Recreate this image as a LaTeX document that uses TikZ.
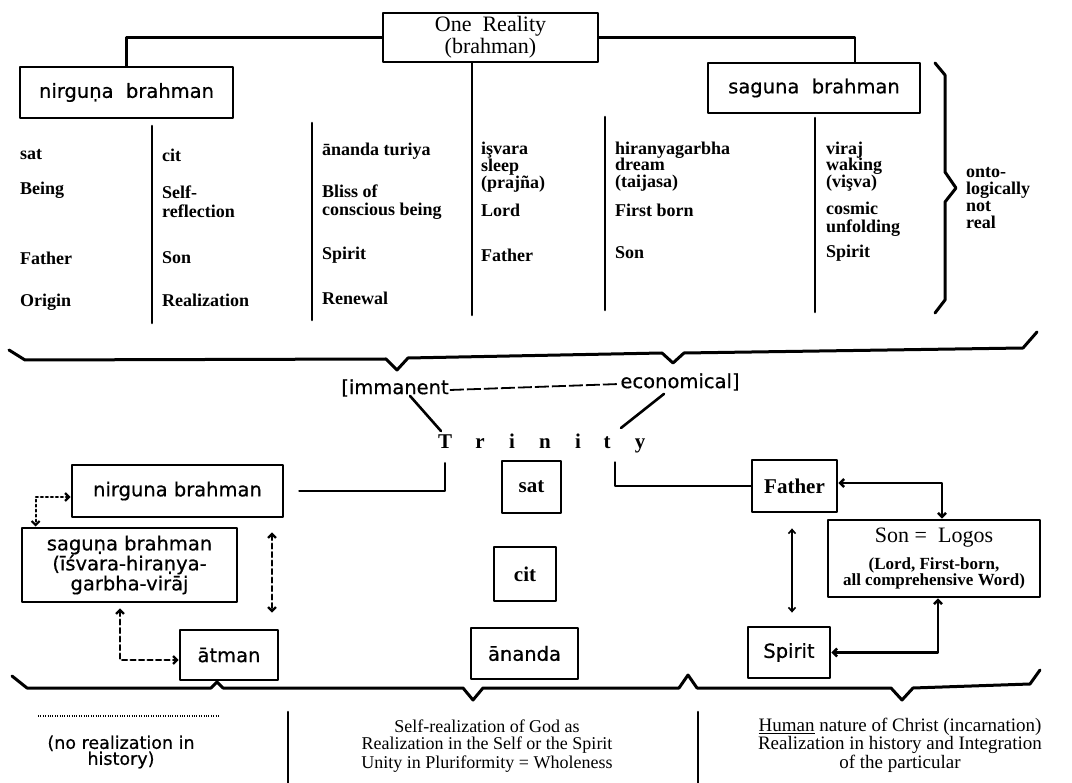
\documentclass[tikz,border=0pt]{standalone}
\usepackage{fontspec}
\setmainfont{Liberation Serif}
\newfontfamily\djv[FakeBold=0.6]{DejaVu Sans}
\usetikzlibrary{arrows.meta}
\newcommand\lblfont{\djv\fontsize{19.5}{20}\selectfont}
\newcommand\bsfont{\fontsize{21}{22}\selectfont\bfseries}
\begin{document}
\begin{tikzpicture}[x=1pt,y=-1pt,line join=round,line cap=round,
  box/.style={draw,line width=2.8pt,inner sep=0pt,align=center},
  conn/.style={line width=2.6pt},
  colline/.style={line width=2.6pt},
  brace/.style={line width=3pt},
  tbl/.style={anchor=west,align=left,inner sep=0pt,font=\fontsize{18}{#1}\selectfont\bfseries},
  tbl/.default=16,
  lbl/.style={font=\lblfont},
  trin/.style={anchor=base,inner sep=1pt,font=\bsfont},
  ardot/.style={line width=2.2pt,dash pattern=on 2pt off 3pt,{Straight Barb[length=4pt,width=8pt]}-{Straight Barb[length=4pt,width=8pt]}},
  ardash/.style={line width=2.2pt,dash pattern=on 5pt off 3.5pt,{Straight Barb[length=4pt,width=8pt]}-{Straight Barb[length=4pt,width=8pt]}},
  arsolid/.style={line width=2.4pt,{Straight Barb[length=4pt,width=8pt]}-{Straight Barb[length=4pt,width=8pt]}},
  arthin/.style={line width=1.6pt,{Straight Barb[length=4pt,width=7pt]}-{Straight Barb[length=4pt,width=7pt]}}
]
\useasboundingbox (0,0) rectangle (1072,783);

% ---------- top boxes ----------
\node[box,minimum width=215pt,minimum height=49pt,font=\fontsize{22}{22}\selectfont] (one) at (490.5,37.5) {One\ \ Reality\\(brahman)};
\node[box,minimum width=213pt,minimum height=51pt,lbl] (nirgT) at (126.5,92.5) {nirguṇa\ \ brahman};
\node[box,minimum width=212pt,minimum height=50pt,lbl] (sagT) at (814,88) {saguna\ \ brahman};
\draw[conn] (one.west) -| (nirgT.north);
\draw[conn] (one.east) -| ([xshift=41pt]sagT.north);
\coordinate (c3b) at (472,315);
\draw[conn] (one.south -| c3b) -- (c3b);

% ---------- column lines ----------
\coordinate (c1a) at (152,126); \coordinate (c1b) at (152,323);
\coordinate (c2a) at (312,123); \coordinate (c2b) at (312,320);
\coordinate (c4a) at (605,117); \coordinate (c4b) at (605,310);
\coordinate (c5a) at (815,118); \coordinate (c5b) at (815,312);
\draw[colline] (c1a) -- (c1b);
\draw[colline] (c2a) -- (c2b);
\draw[colline] (c4a) -- (c4b);
\draw[colline] (c5a) -- (c5b);

% ---------- table text ----------
\node[tbl] (t00) at (20,155) {sat};
\node[tbl] (t01) at (20,190) {Being};
\node[tbl] (t02) at (20,258) {Father};
\node[tbl] (t03) at (20,302) {Origin};

\node[tbl] (t10) at (162,155) {cit};
\node[tbl=19] (t11) at (162,202) {Self-\\reflection};
\node[tbl] (t12) at (162,258) {Son};
\node[tbl] (t13) at (162,300) {Realization};

\node[tbl] (t20) at (322,151) {ānanda turiya};
\node[tbl=18] (t21) at (322,202) {Bliss of\\conscious being};
\node[tbl] (t22) at (322,255) {Spirit};
\node[tbl] (t23) at (322,298) {Renewal};

\node[tbl=15] (t30) at (481,167) {işvara\\sleep\\(prajña)};
\node[tbl] (t31) at (481,210) {Lord};
\node[tbl] (t32) at (481,255) {Father};

\node[tbl=16.5] (t40) at (615,166.5) {hiranyagarbha\\dream\\(taijasa)};
\node[tbl] (t41) at (615,210) {First born};
\node[tbl] (t42) at (615,253) {Son};

\node[tbl=16.5] (t50) at (826,166.5) {viraj\\waking\\(vişva)};
\node[tbl=18] (t51) at (826,219) {cosmic\\unfolding};
\node[tbl] (t52) at (826,253) {Spirit};

\draw[brace] (935,63) -- (945,75) -- (945,172) -- (956,188) -- (945,202) -- (945,300) -- (935,313);
\node[tbl=16.7] (onto) at (966,198) {onto-\\logically\\not\\real};

% ---------- upper long brace ----------
\draw[brace] (9,350) -- (25,360) -- (386,359) -- (397,370) -- (408,358) -- (662,353) -- (673,363) -- (684,353) -- (1023,348) -- (1037,332);

\node[lbl,inner sep=1pt] (imm) at (395,388) {[immanent};
\node[lbl,inner sep=1pt] (eco) at (680,382) {economical]};
\draw[line width=1.8pt,dash pattern=on 14pt off 3pt,line cap=butt] ([yshift=-2pt]imm.east) -- ([yshift=-2pt]eco.west);

% ---------- Trinity ----------
\node[trin] (T) at (445,449) {T};
\node[trin] (r) at (480,449) {r};
\node[trin] (i1) at (512,449) {i};
\node[trin] (n) at (545,449) {n};
\node[trin] (i2) at (578,449) {i};
\node[trin] (t) at (607,449) {t};
\node[trin] (y) at (640,449) {y};
\draw[conn] ([xshift=15pt,yshift=2pt]imm.south) -- ([xshift=-4pt,yshift=3pt]T.north);
\draw[conn] ([xshift=-16pt,yshift=-2pt]eco.south) -- ([xshift=14pt,yshift=8pt]t.north);

% ---------- lower boxes ----------
\node[box,minimum width=211pt,minimum height=52pt,lbl] (nirgL) at (177.5,491) {nirguna brahman};
\node[box,minimum width=215pt,minimum height=74pt,lbl] (sagL) at (129.5,565) {saguṇa brahman\\(īśvara-hiraṇya-\\garbha-virāj};
\node[box,minimum width=98pt,minimum height=50pt,lbl] (atman) at (229,655) {ātman};
\node[box,minimum width=59pt,minimum height=52pt,font=\bsfont] (sat) at (531.5,487) {sat};
\node[box,minimum width=62pt,minimum height=54pt,font=\bsfont] (cit) at (525,574) {cit};
\node[box,minimum width=107pt,minimum height=51pt,lbl] (anan) at (524.5,653.5) {ānanda};
\node[box,minimum width=85pt,minimum height=52pt,font=\bsfont] (father) at (794.5,486) {Father};
\node[box,minimum width=212pt,minimum height=77pt,font=\fontsize{17}{15}\selectfont\bfseries] (son) at (934,558.5) {{\fontsize{22}{24}\selectfont\mdseries Son =\ \ Logos}\\[9pt](Lord, First-born,\\all comprehensive Word)};
\node[box,minimum width=82pt,minimum height=51pt,lbl] (spirit) at (789,652.5) {Spirit};

\draw[conn,shorten <=13pt,shorten >=15pt] (T.south) |- (nirgL.east);
\draw[conn,shorten <=12pt] ([xshift=8pt]t.south) |- (father.west);

\draw[ardot] ([yshift=-6pt]nirgL.west) -| ([xshift=15pt]sagL.north west);
\draw[ardash,shorten <=5pt] ([xshift=-9.5pt]sagL.south) |- ([yshift=-5pt]atman.west);
\draw[ardash,shorten <=14pt,shorten >=16pt] ([xshift=94.5pt]nirgL.south) -- ([xshift=43pt]atman.north);

\draw[arsolid] ([yshift=3pt]father.east) -| ([xshift=8pt]son.north);
\draw[arsolid] ([xshift=4pt]son.south) |- (spirit.east);
\draw[arthin,shorten <=15pt,shorten >=13pt] ([xshift=-2.5pt]father.south) -- ([xshift=3pt]spirit.north);

% ---------- lower long brace ----------
\draw[brace] (12,676) -- (27,688) -- (211,688) -- (217,682) -- (223,688) -- (463,688) -- (473,700) -- (483,688) -- (679,688) -- (688,675) -- (697,688) -- (891,688) -- (902,700) -- (913,688) -- (1030,684) -- (1040,670);

% ---------- bottom texts ----------
\coordinate (d1) at (38,716); \coordinate (d2) at (220,716);
\draw[line width=1.2pt,dash pattern=on 0.8pt off 1.6pt,line cap=butt] (d1) -- (d2);
\node[align=center,font=\djv\fontsize{17.5}{16}\selectfont] (noreal) at (121,752) {(no realization in\\history)};
\coordinate (s1a) at (288,712); \coordinate (s1b) at (288,783);
\coordinate (s2a) at (698,712); \coordinate (s2b) at (698,783);
\draw[colline] (s1a) -- (s1b);
\draw[colline] (s2a) -- (s2b);
\node[align=center,font=\fontsize{18}{17}\selectfont] (mid) at (487,746) {Self-realization of God as\\Realization in the Self or the Spirit\\[2pt]Unity in Pluriformity = Wholeness};
\node[align=center,font=\fontsize{19}{16}\selectfont] (rt) at (900,745) {\underline{Human} nature of Christ (incarnation)\\Realization in history and Integration\\of the particular};
\end{tikzpicture}
\end{document}
